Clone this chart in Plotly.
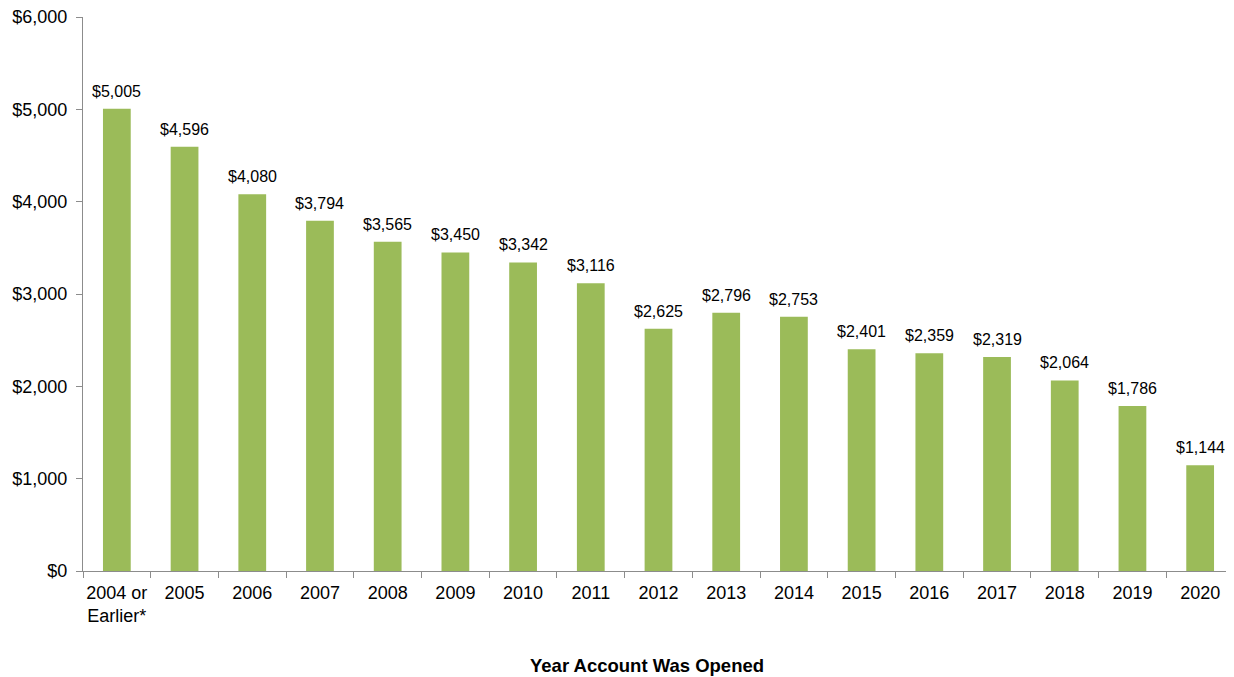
import plotly.graph_objects as go

categories = ["2004 or<br>Earlier*", "2005", "2006", "2007", "2008", "2009", "2010", "2011",
              "2012", "2013", "2014", "2015", "2016", "2017", "2018", "2019", "2020"]
values = [5005, 4596, 4080, 3794, 3565, 3450, 3342, 3116, 2625, 2796, 2753, 2401, 2359,
          2319, 2064, 1786, 1144]
y_ticks = [0, 1000, 2000, 3000, 4000, 5000, 6000]
y_tick_labels = ["$0", "$1,000", "$2,000", "$3,000", "$4,000", "$5,000", "$6,000"]
x_title = "Year Account Was Opened"

fig = go.Figure(go.Bar(
    x=categories, y=values,
    marker=dict(color="#9BBB59", line=dict(width=0)),
    cliponaxis=False,
))

label_annotations = [
    dict(x=i, y=v, xref="x", yref="y", text=f"${v:,}", showarrow=False,
         xanchor="center", yanchor="bottom", yshift=7,
         font=dict(family="Liberation Sans, Arial, sans-serif", size=16, color="#000000"))
    for i, v in enumerate(values)
]

fig.update_layout(
    width=1226, height=669,
    margin=dict(l=75, r=0, t=9, b=106, autoexpand=False),
    paper_bgcolor="white", plot_bgcolor="white",
    bargap=0.59,
    showlegend=False,
    font=dict(family="Liberation Sans, Arial, sans-serif", size=18, color="#000000"),
    xaxis=dict(
        type="category", categoryorder="array", categoryarray=categories,
        showline=True, linecolor="#8c8c8c", linewidth=1,
        ticks="outside", tickson="boundaries", ticklen=6, tickcolor="#8c8c8c",
        showgrid=False, tickfont=dict(size=18), tickangle=0,
        ticklabeloverflow="allow", ticklabelstandoff=5,
    ),
    yaxis=dict(
        range=[0, 6000], tickvals=y_ticks, ticktext=y_tick_labels,
        showline=True, linecolor="#8c8c8c", linewidth=1,
        ticks="outside", ticklen=6, tickcolor="#8c8c8c",
        showgrid=False, zeroline=False, tickfont=dict(size=18),
        ticklabeloverflow="allow", ticklabelstandoff=5,
    ),
    annotations=label_annotations + [dict(
        text=f"<b>{x_title}</b>", xref="paper", yref="paper",
        x=0.49, y=-0.17, xanchor="center", yanchor="middle", showarrow=False,
        font=dict(size=18.5, color="#000000"),
    )],
)

fig.write_html("out.html")
